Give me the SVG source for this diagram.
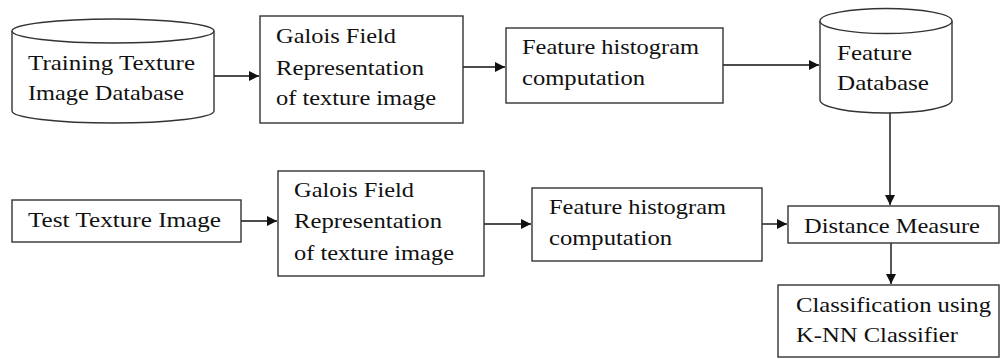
<svg xmlns="http://www.w3.org/2000/svg" width="1001" height="359" viewBox="0 0 1001 359">
<defs>
<style>
.s{fill:#fff;stroke:#333;stroke-width:1.4}
.c{fill:none;stroke:#111;stroke-width:1.4}
</style>
<marker id="ah" viewBox="0 0 10 10" refX="10" refY="5" markerWidth="10" markerHeight="10" markerUnits="userSpaceOnUse" orient="auto">
<path d="M0,0L10,5L0,10z" fill="#111"/>
</marker>
</defs>
<rect width="1001" height="359" fill="#fff"/>
<g id="connectors">
<line class="c" x1="214" y1="76" x2="259" y2="76" marker-end="url(#ah)"/>
<line class="c" x1="463" y1="67" x2="505" y2="67" marker-end="url(#ah)"/>
<line class="c" x1="723" y1="65" x2="819" y2="65" marker-end="url(#ah)"/>
<line class="c" x1="890" y1="113" x2="890" y2="205" marker-end="url(#ah)"/>
<line class="c" x1="241" y1="221" x2="277" y2="221" marker-end="url(#ah)"/>
<line class="c" x1="484" y1="224" x2="531" y2="224" marker-end="url(#ah)"/>
<line class="c" x1="762" y1="224" x2="787" y2="224" marker-end="url(#ah)"/>
<line class="c" x1="891" y1="243" x2="891" y2="284" marker-end="url(#ah)"/>
</g>
<g id="training-db">
<path class="s" d="M12,31 L12,111 A101,12 0 0 0 214,111 L214,31"/>
<ellipse class="s" cx="113" cy="31" rx="101" ry="12"/>
<text font-family="Liberation Serif" font-size="21" fill="#111" x="28" y="70" textLength="167" lengthAdjust="spacingAndGlyphs">Training  Texture</text>
<text font-family="Liberation Serif" font-size="21" fill="#111" x="28" y="100" textLength="156" lengthAdjust="spacingAndGlyphs">Image Database</text>
</g>
<g id="galois1">
<rect class="s" x="260" y="16" width="203" height="107"/>
<text font-family="Liberation Serif" font-size="21" fill="#111" x="276" y="43" textLength="120" lengthAdjust="spacingAndGlyphs">Galois Field</text>
<text font-family="Liberation Serif" font-size="21" fill="#111" x="276" y="75" textLength="148" lengthAdjust="spacingAndGlyphs">Representation</text>
<text font-family="Liberation Serif" font-size="21" fill="#111" x="276" y="105" textLength="160" lengthAdjust="spacingAndGlyphs">of texture image</text>
</g>
<g id="hist1">
<rect class="s" x="506" y="28" width="217" height="75"/>
<text font-family="Liberation Serif" font-size="21" fill="#111" x="522" y="54" textLength="177" lengthAdjust="spacingAndGlyphs">Feature histogram</text>
<text font-family="Liberation Serif" font-size="21" fill="#111" x="522" y="85" textLength="123" lengthAdjust="spacingAndGlyphs">computation</text>
</g>
<g id="feature-db">
<path class="s" d="M820,21 L820,100 A66,13 0 0 0 952,100 L952,21"/>
<ellipse class="s" cx="886" cy="21" rx="66" ry="12.5"/>
<text font-family="Liberation Serif" font-size="21" fill="#111" x="837" y="60" textLength="75" lengthAdjust="spacingAndGlyphs">Feature</text>
<text font-family="Liberation Serif" font-size="21" fill="#111" x="837" y="90" textLength="92" lengthAdjust="spacingAndGlyphs">Database</text>
</g>
<g id="test-image">
<rect class="s" x="12" y="200" width="229" height="42"/>
<text font-family="Liberation Serif" font-size="21" fill="#111" x="28" y="227" textLength="193" lengthAdjust="spacingAndGlyphs">Test Texture Image</text>
</g>
<g id="galois2">
<rect class="s" x="278" y="171" width="206" height="105"/>
<text font-family="Liberation Serif" font-size="21" fill="#111" x="294" y="197" textLength="120" lengthAdjust="spacingAndGlyphs">Galois Field</text>
<text font-family="Liberation Serif" font-size="21" fill="#111" x="294" y="228" textLength="148" lengthAdjust="spacingAndGlyphs">Representation</text>
<text font-family="Liberation Serif" font-size="21" fill="#111" x="294" y="260" textLength="160" lengthAdjust="spacingAndGlyphs">of texture image</text>
</g>
<g id="hist2">
<rect class="s" x="532" y="188" width="230" height="73"/>
<text font-family="Liberation Serif" font-size="21" fill="#111" x="549" y="214" textLength="177" lengthAdjust="spacingAndGlyphs">Feature histogram</text>
<text font-family="Liberation Serif" font-size="21" fill="#111" x="549" y="245" textLength="123" lengthAdjust="spacingAndGlyphs">computation</text>
</g>
<g id="distance">
<rect class="s" x="788" y="206" width="211" height="37"/>
<text font-family="Liberation Serif" font-size="21" fill="#111" x="804" y="233" textLength="176" lengthAdjust="spacingAndGlyphs">Distance Measure</text>
</g>
<g id="classification">
<rect class="s" x="778" y="285" width="221" height="72"/>
<text font-family="Liberation Serif" font-size="21" fill="#111" x="796" y="312" textLength="195" lengthAdjust="spacingAndGlyphs">Classification using</text>
<text font-family="Liberation Serif" font-size="21" fill="#111" x="796" y="342" textLength="162" lengthAdjust="spacingAndGlyphs">K-NN Classifier</text>
</g>
</svg>
